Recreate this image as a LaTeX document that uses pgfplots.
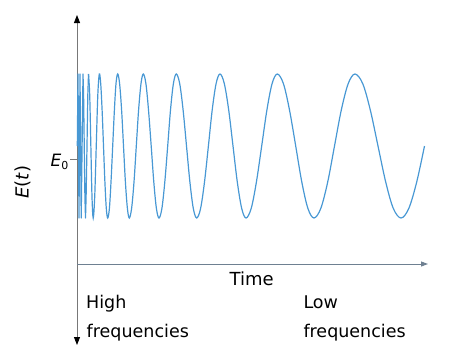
\documentclass[border=0pt]{standalone}
\usepackage{pgfplots}
\pgfplotsset{compat=1.18}
\usepackage{fontspec}
\setmainfont{DejaVu Sans}
\usetikzlibrary{arrows.meta}
\definecolor{sig}{RGB}{72,152,212}
\definecolor{axgray}{RGB}{120,120,120}
\definecolor{axblue}{RGB}{110,128,145}
\begin{document}
\begin{tikzpicture}
\begin{axis}[
  scale only axis, width=453pt, height=362pt,
  xmin=0, xmax=453, ymin=0, ymax=362, y dir=reverse,
  hide axis, clip=false,
]
% axes
\draw[axgray, line width=0.9pt, {Triangle[length=8pt,width=6pt,color=black]}-{Triangle[length=8pt,width=6pt,color=black]}] (axis cs:77,15) -- (axis cs:77,345);
\draw[axblue, line width=0.9pt, -{Triangle[length=7pt,width=5pt]}] (axis cs:77,264) -- (axis cs:428,264);
\draw[axgray, line width=0.9pt] (axis cs:70,159) -- (axis cs:77,159);
% signal: dense start
\addplot[sig, line width=1.2pt, line join=round] coordinates {
(77.3,146) (78,74)
(78.5,146) (79,218)
(79.5,146) (80,74)
(80.6,146) (81.2,218)
(82.1,146) (83,74)
(83.6,95) (84.25,146) (84.9,197) (85.5,218)
(86.1,197) (87,146) (87.8,95) (88.5,74)
};
% signal: remainder
\addplot[sig, line width=1.2pt, smooth, tension=0.55] coordinates {
(88.5,74)
(89.7,95.1) (90.85,146) (92.0,196.9) (93.2,218)
(94.7,196.9) (96.25,146) (97.8,95.1) (99.3,74)
(100.7,83.6) (102.1,110) (103.5,146) (104.9,182) (106.3,208.4) (107.7,218)
(109.4,208.4) (111.0,182) (112.7,146) (114.4,110) (116.0,83.6) (117.7,74)
(119.6,83.6) (121.6,110) (123.5,146) (125.4,182) (127.4,208.4) (129.3,218)
(131.6,208.4) (134.0,182) (136.3,146) (138.6,110) (141.0,83.6) (143.3,74)
(145.9,83.6) (148.5,110) (151.2,146) (153.8,182) (156.4,208.4) (159.0,218)
(161.9,208.4) (164.8,182) (167.7,146) (170.5,110) (173.4,83.6) (176.3,74)
(179.7,83.6) (183.1,110) (186.5,146) (189.9,182) (193.3,208.4) (196.7,218)
(200.6,208.4) (204.5,182) (208.4,146) (212.2,110) (216.1,83.6) (220.0,74)
(224.3,83.6) (228.7,110) (233.0,146) (237.3,182) (241.7,208.4) (246.0,218)
(251.2,208.4) (256.4,182) (261.7,146) (266.9,110) (272.1,83.6) (277.3,74)
(283.4,83.6) (289.5,110) (295.7,146) (301.8,182) (307.9,208.4) (314.0,218)
(320.8,208.4) (327.7,182) (334.5,146) (341.3,110) (348.2,83.6) (355.0,74)
(362.7,83.6) (370.3,110) (378.0,146) (385.7,182) (393.3,208.4) (401.0,218)
(408.8,208.4) (416.7,182) (424.5,146)
};
% labels
\node[anchor=base, font=\fontsize{18}{21}\selectfont] at (axis cs:251.7,285.5) {Time};
\node[anchor=base west, inner sep=0pt, font=\fontsize{17.5}{21}\selectfont] at (axis cs:86,308.3) {High};
\node[anchor=base west, inner sep=0pt, font=\fontsize{17.5}{21}\selectfont] at (axis cs:86.5,337.3) {frequencies};
\node[anchor=base west, inner sep=0pt, font=\fontsize{17.5}{21}\selectfont] at (axis cs:303.3,308.8) {Low};
\node[anchor=base west, inner sep=0pt, font=\fontsize{17.5}{21}\selectfont] at (axis cs:303.3,337.5) {frequencies};
\node[rotate=90, inner sep=0pt, font=\fontsize{18}{20}\selectfont] at (axis cs:23,182) {\textit{E}(\textit{t})};
\node[anchor=base west, inner sep=0pt, font=\fontsize{17}{20}\selectfont] at (axis cs:50.5,166.5) {\textit{E}\raisebox{-0.35ex}{\fontsize{11}{12}\selectfont 0}};
\end{axis}
\pgfresetboundingbox
\path (current axis.south west) rectangle (current axis.north east);
\end{tikzpicture}
\end{document}
